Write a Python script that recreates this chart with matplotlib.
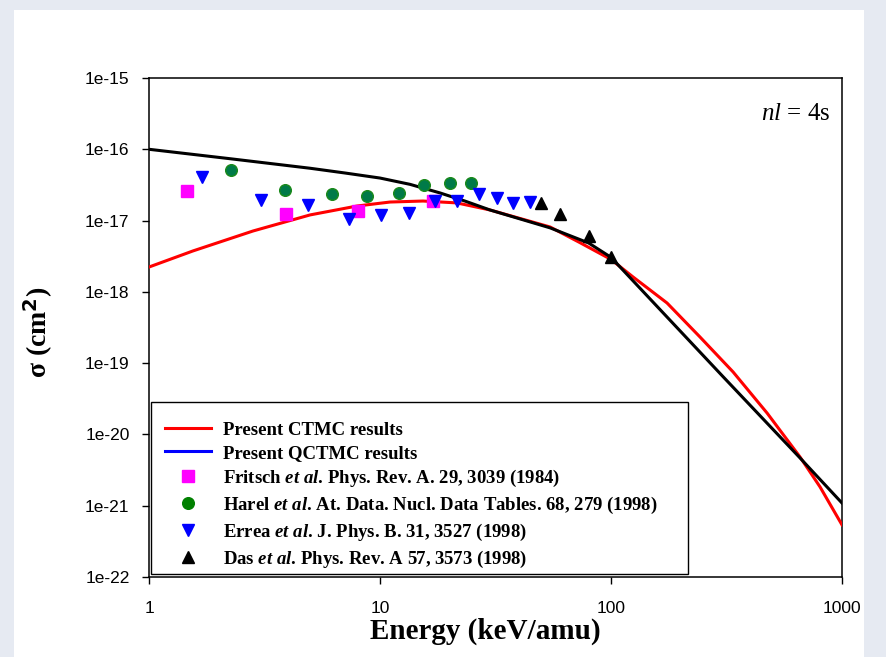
import matplotlib
matplotlib.use('Agg')
import matplotlib.pyplot as plt
from matplotlib.lines import Line2D
from matplotlib.patches import Rectangle

# Data
e_ctmc = [1.0, 1.55, 2.82, 4.98, 7.95, 11.05, 15.35, 21.5, 29.9, 54.5, 73.4, 100,
          124.5, 174.8, 242.7, 337.6, 473.6, 658, 803, 1000]
s_ctmc = [2.23e-18, 3.75e-18, 7.14e-18, 1.20e-17, 1.60e-17, 1.82e-17, 1.88e-17, 1.77e-17, 1.41e-17,
          8.13e-18, 4.9e-18, 2.85e-18, 1.62e-18, 6.98e-19, 2.33e-19, 7.53e-20, 2.0e-20,
          4.83e-21, 1.84e-21, 5.38e-22]

e_qctmc = [1.0, 2.24, 4.98, 7.05, 10.0, 13.5, 18.2, 23.3, 29.9, 54.5, 80, 100, 305, 658, 1000]
s_qctmc = [1.0e-16, 7.38e-17, 5.42e-17, 4.65e-17, 3.95e-17, 3.22e-17, 2.44e-17, 1.88e-17, 1.41e-17,
           7.9e-18, 4.85e-18, 3.05e-18, 6.5e-20, 4.68e-21, 1.09e-21]

e_fritsch = [1.46, 3.92, 8.03, 16.96]
s_fritsch = [2.60e-17, 1.24e-17, 1.36e-17, 1.88e-17]

e_harel = [2.26, 3.88, 6.20, 8.78, 12.1, 15.5, 20.1, 24.8]
s_harel = [5.13e-17, 2.69e-17, 2.36e-17, 2.21e-17, 2.44e-17, 3.15e-17, 3.37e-17, 3.37e-17]

e_errea = [1.70, 3.05, 4.88, 7.34, 10.1, 13.4, 17.3, 21.5, 26.8, 32.1, 37.6, 44.6]
s_errea = [4.08e-17, 1.95e-17, 1.66e-17, 1.05e-17, 1.2e-17, 1.28e-17, 1.88e-17, 1.88e-17,
           2.36e-17, 2.07e-17, 1.77e-17, 1.82e-17]

e_das = [50, 60, 80, 100]
s_das = [1.77e-17, 1.24e-17, 6.08e-18, 3.08e-18]

xticks = [1, 10, 100, 1000]
xtick_labels = ['1', '10', '100', '1000']
yticks = [1e-22, 1e-21, 1e-20, 1e-19, 1e-18, 1e-17, 1e-16, 1e-15]
ytick_labels = ['1e-22', '1e-21', '1e-20', '1e-19', '1e-18', '1e-17', '1e-16', '1e-15']

legend_labels = [
    'Present CTMC results',
    'Present QCTMC results',
    r'Fritsch $\mathit{et\ al}$. Phys. Rev. A. 29, 3039 (1984)',
    r'Harel $\mathit{et\ al}$. At. Data. Nucl. Data Tables. 68, 279 (1998)',
    r'Errea $\mathit{et\ al}$. J. Phys. B. 31, 3527 (1998)',
    r'Das $\mathit{et\ al}$. Phys. Rev. A 57, 3573 (1998)',
]

plt.rcParams['mathtext.fontset'] = 'custom'
plt.rcParams['mathtext.rm'] = 'Liberation Serif:bold'
plt.rcParams['mathtext.it'] = 'Liberation Serif:italic:bold'
plt.rcParams['mathtext.sf'] = 'Liberation Serif:italic'

fig = plt.figure(figsize=(8.86, 6.57), dpi=100)
fig.patch.set_facecolor('#e6eaf2')
fig.patches.append(Rectangle((14 / 886, 0), 850 / 886, 647 / 657, transform=fig.transFigure,
                             facecolor='white', edgecolor='none', zorder=-10))

ax = fig.add_axes([149 / 886, 1 - 577 / 657, 693 / 886, 499 / 657])
ax.set_facecolor('white')

ax.plot(e_ctmc, s_ctmc, color='#ff0000', lw=2.2, zorder=3)
ax.plot(e_qctmc, s_qctmc, color='black', lw=2.2, zorder=3)
ax.plot(e_fritsch, s_fritsch, 's', color='#ff00ff', ms=8.4, mec='#ff00ff', zorder=4)
ax.plot(e_harel, s_harel, 'o', color='#007a48', ms=8.4, mec='#1a8a1a', mew=1, zorder=4)
ax.plot(e_errea, s_errea, 'v', color='#0000ff', ms=9, zorder=4)
ax.plot(e_das, s_das, '^', color='black', ms=9, zorder=4)

ax.set_xscale('log')
ax.set_yscale('log')
ax.set_xlim(1, 1000)
ax.set_ylim(1e-22, 1e-15)
ax.set_xticks(xticks)
ax.set_xticklabels(xtick_labels)
ax.set_yticks(yticks)
ax.set_yticklabels(ytick_labels)
ax.minorticks_off()
ax.tick_params(which='major', direction='out', length=5, width=1, labelsize=12.5,
               top=False, right=False)
ax.tick_params(axis='y', pad=9)
ax.tick_params(axis='x', pad=12)
for lab in ax.get_xticklabels() + ax.get_yticklabels():
    lab.set_fontfamily('Liberation Sans')
for sp in ax.spines.values():
    sp.set_linewidth(1.1)

ax.set_ylabel(r'σ (cm$^{\mathbf{2}}$)', fontsize=20, fontweight='bold', family='Liberation Serif')
ax.yaxis.set_label_coords(-0.135, 0.49)
ax.set_xlabel('Energy (keV/amu)', fontsize=21, fontweight='bold', family='Liberation Serif')
ax.xaxis.set_label_coords(0.485, -0.082)

ax.text(0.983, 0.928, r'$\mathsf{nl}$ = 4s', transform=ax.transAxes, ha='right', va='center',
        fontsize=18, family='Liberation Serif')

# legend (frame drawn separately)
handles = [
    Line2D([], [], color='#ff0000', lw=2.2),
    Line2D([], [], color='#0000ff', lw=2.2),
    Line2D([], [], ls='none', marker='s', color='#ff00ff', ms=8.4),
    Line2D([], [], ls='none', marker='o', color='#008000', ms=8.4),
    Line2D([], [], ls='none', marker='v', color='#0000ff', ms=9),
    Line2D([], [], ls='none', marker='^', color='black', ms=9),
]
ax.add_patch(Rectangle((2 / 693, 3 / 499), 537 / 693, 172 / 499, transform=ax.transAxes,
                       facecolor='white', edgecolor='black', lw=1, zorder=5))
leg = ax.legend(handles, legend_labels, loc='upper left', bbox_to_anchor=(16 / 693, 0.311),
                frameon=False, borderpad=0, borderaxespad=0, handlelength=2.45,
                handletextpad=0.64, labelspacing=0.31,
                prop={'family': 'Liberation Serif', 'weight': 'bold', 'size': 13.5})
leg.set_zorder(6)

fig.savefig('out.png', dpi=100, facecolor=fig.get_facecolor())
